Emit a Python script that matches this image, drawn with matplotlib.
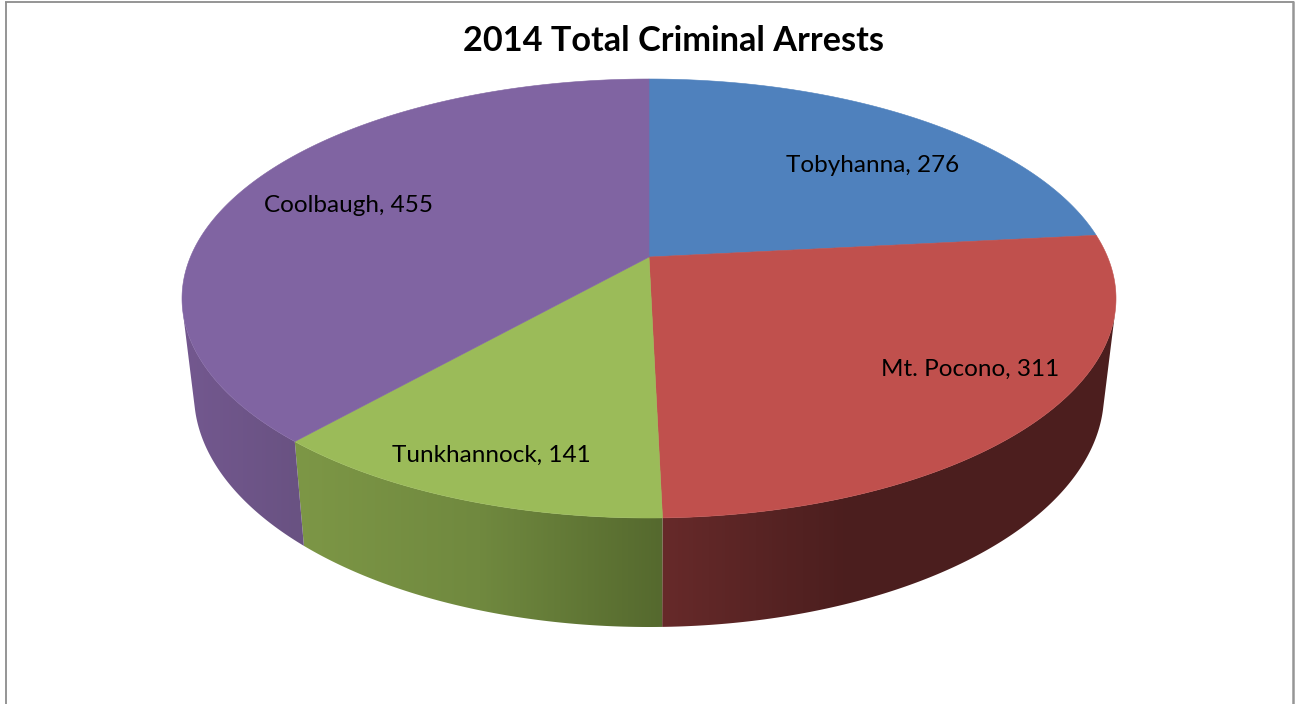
import matplotlib
matplotlib.use("Agg")
import matplotlib.pyplot as plt
from matplotlib.patches import Polygon
import numpy as np

towns = ["Tobyhanna", "Mt. Pocono", "Tunkhannock", "Coolbaugh"]
arrests = [276, 311, 141, 455]
title = "2014 Total Criminal Arrests"

face_colors = ["#4f81bd", "#c0504d", "#9bbb59", "#8064a2"]

# side shading of each slice: (pixel x, rgb)
side_stops = [
    [(0, (60, 90, 140)), (1295, (60, 90, 140))],
    [(662, (103, 42, 42)), (850, (75, 30, 30)), (1110, (77, 31, 31))],
    [(296, (125, 151, 70)), (480, (112, 137, 63)), (662, (85, 105, 46))],
    [(185, (115, 88, 143)), (300, (105, 82, 130))],
]

label_pos = [(873, 166), (970, 369), (491, 455), (348, 205)]

# the pie seen in perspective, ellipse geometry in pixels
cx, cy, rx, ry = 649, 298.5, 467, 219.5
cy_low, rx_low, ry_low = 394, 455, 233
tilt = 0.189


def rim(theta, y_mid, a, b):
    """point of the rim, theta is clockwise from 12 o'clock in radians"""
    xx, yy = np.sin(theta), np.cos(theta)
    den = 1 + tilt * yy
    px = xx * np.sqrt(1 - tilt ** 2) / den
    py = (yy + tilt) / den
    return cx + a * px, y_mid - b * py


fig = plt.figure(figsize=(12.95, 7.04), dpi=100)
ax = fig.add_axes([0, 0, 1, 1])

# chart frame, the bottom edge is cut off in the picture
ax.plot([5.8, 5.8], [704, 1.8], color="#8c8c8c", lw=1.3, solid_capstyle="butt")
ax.plot([5, 1294], [1.8, 1.8], color="#8c8c8c", lw=1.3, solid_capstyle="butt")
ax.plot([1293, 1293], [1, 704], color="#969696", lw=1.8, solid_capstyle="butt")

edges = 2 * np.pi * np.concatenate([[0], np.cumsum(arrests)]) / sum(arrests)

# only the front of the wall shows, find where the wall turns away
grid = np.linspace(0, 2 * np.pi, 7201)
gx, gy = rim(grid, cy, rx, ry)
lx, ly = rim(grid, cy_low, rx_low, ry_low)
facing = (lx - gx) * np.gradient(gy) - (ly - gy) * np.gradient(gx) > 0
front_start, front_end = grid[facing][0], grid[facing][-1]

# sides first, the top faces go over them
for i in range(len(towns)):
    start = max(edges[i], front_start)
    end = min(edges[i + 1], front_end)
    if start >= end:
        continue
    angles = np.linspace(start, end, 300)
    top_x, top_y = rim(angles, cy, rx, ry)
    low_x, low_y = rim(angles, cy_low, rx_low, ry_low)
    outline = list(zip(top_x, top_y)) + list(zip(low_x[::-1], low_y[::-1]))

    px = np.arange(0, 1295) + 0.5
    stops_x = [s[0] for s in side_stops[i]]
    shade = np.stack([np.interp(px, stops_x, [s[1][c] for s in side_stops[i]])
                      for c in range(3)], axis=1) / 255
    img = ax.imshow(shade[np.newaxis, :, :], extent=(0, 1295, 704, 0), aspect="auto",
                    interpolation="nearest", zorder=2)
    clip = Polygon(outline, closed=True, transform=ax.transData)
    img.set_clip_path(clip)

for i in range(len(towns)):
    angles = np.linspace(edges[i], edges[i + 1], 300)
    arc_x, arc_y = rim(angles, cy, rx, ry)
    apex_y = cy - ry * tilt
    pts = [(cx, apex_y)] + list(zip(arc_x, arc_y))
    ax.add_patch(Polygon(pts, closed=True, facecolor=face_colors[i],
                         edgecolor=face_colors[i], lw=0.4, zorder=3))
    ax.text(label_pos[i][0], label_pos[i][1], f"{towns[i]}, {arrests[i]}",
            ha="center", va="center", fontsize=17.5, family="Lato", color="black", zorder=4)

ax.text(673.5, 41, title, ha="center", va="center", fontsize=24.7, family="Lato",
        fontweight="bold", color="black")

ax.set_xlim(0, 1295)
ax.set_ylim(704, 0)
ax.axis("off")

fig.savefig("out.png", dpi=100, facecolor="white")
